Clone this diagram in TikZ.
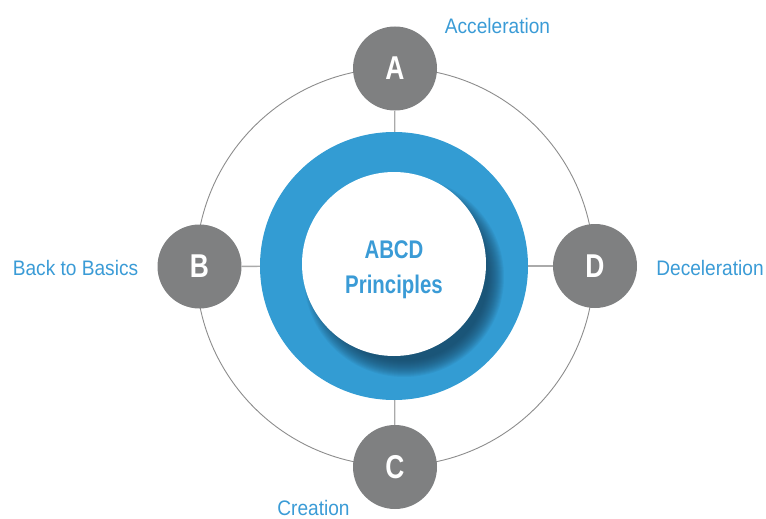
\documentclass[tikz,border=0pt]{standalone}
\usepackage{fontspec}
\setmainfont{Liberation Sans}
\newfontfamily\labelfont{Liberation Sans}[FakeStretch=0.91]
\newfontfamily\titlefont{Liberation Sans}[FakeStretch=0.8]
\definecolor{ringblue}{HTML}{339CD3}
\definecolor{textblue}{HTML}{3A9BD6}
\definecolor{dotgray}{HTML}{7F8081}
\definecolor{linegray}{HTML}{8C8C8C}
\definecolor{spokegray}{HTML}{AAAAAA}
\definecolor{shadowblue}{HTML}{163F5A}
\tikzset{
  letterdot/.style={circle, fill=dotgray, inner sep=0pt, minimum size=84pt,
    text=white, font=\titlefont\bfseries\fontsize{33}{33}\selectfont},
  sidelabel/.style={text=textblue, inner sep=0pt, font=\labelfont\fontsize{21}{21}\selectfont},
  spoke/.style={draw=spokegray, line width=1.3pt},
}
\begin{document}
\begin{tikzpicture}[x=1pt,y=-1pt]
\useasboundingbox (0,0) rectangle (766,519);
\coordinate (O) at (395,267);
% big thin circle
\draw[linegray, line width=0.9pt] (O) circle[radius=199];
% ring node (outer)
\node[circle, inner sep=0pt, minimum size=268pt] (ring) at (394,266) {};
% small circles
\node[letterdot] (A) at (395,68.5) {A};
\node[letterdot] (B) at (199.5,266.5) {B};
\node[letterdot] (C) at (395,467) {C};
\node[letterdot] (D) at (595,266) {D};
% spokes
\draw[spoke] (A) -- (ring);
\draw[spoke] (ring) -- (C);
\draw[spoke] (B) -- (ring);
\draw[spoke] (ring) -- (D);
% ring
\fill[ringblue] (394,266) circle[radius=134];
% shadow
\begin{scope}
  \clip (394,266) circle[radius=133];
  \foreach \r in {0,...,16} {
    \fill[shadowblue, opacity=0.07] (404,277) circle[radius=84+\r];
  }
\end{scope}
% inner white circle
\node[circle, fill=white, inner sep=0pt, minimum size=184pt] (core) at (394,264) {};
\node[text=textblue, align=center, font=\titlefont\bfseries\fontsize{25.5}{35}\selectfont] (title) at (394,270) {ABCD\\Principles};
% labels
\node[sidelabel] (la) at (497.5,26) {Acceleration};
\node[sidelabel] (lb) at (75.5,268) {Back to Basics};
\node[sidelabel] (lc) at (313.5,507.5) {Creation};
\node[sidelabel] (ld) at (710,268) {Deceleration};
\end{tikzpicture}
\end{document}
